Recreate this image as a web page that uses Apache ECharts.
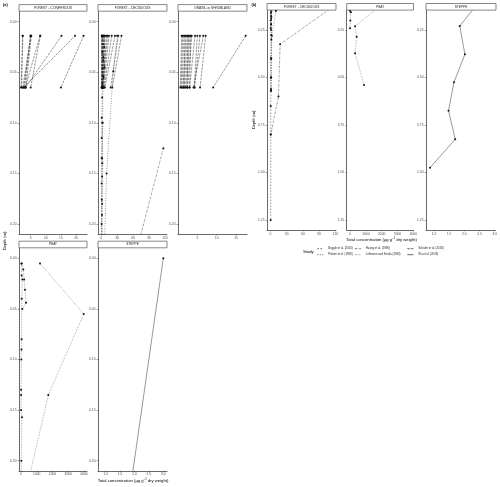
<!DOCTYPE html>
<html>
<head>
<meta charset="utf-8">
<title>Depth profiles</title>
<script src="https://cdn.jsdelivr.net/npm/echarts@6/dist/echarts.min.js"></script>
<style>
  html, body { margin: 0; padding: 0; background: #fff; }
  #main { width: 500px; height: 487px; }
</style>
</head>
<body>
<div id="main"></div>
<script>
// ---- data (concentration, depth in m) ----
var studies = ['Buggle et al. (2010)', 'Polsen et al. (1998)', 'Huang et al. (1996)',
               'Lehtonen and Ketola (1993)', 'Schäfer et al. (2016)', 'Wu et al. (2019)'];

// Schäfer: two sampling depths per site
var schaeferDepths = [0.014, 0.065];
var conifTop    = [2.4, 2.3, 5.0, 5.1, 4.9, 5.2, 8.1, 8.2, 15.2, 19.7, 22.5];
var conifBottom = [1.8, 2.0, 2.4, 2.7, 3.0, 3.4, 3.2, 5.0, 3.3, 2.7, 15.0];
var decidTop    = [0.8, 1.5, 2.2, 3.8, 5.0, 7.0, 10.0, 14.5, 19.6, 25.8, 32.0, 38.0, 1.2, 3.0, 6.0, 12.0];
var decidBottom = [0.5, 0.8, 1.4, 1.2, 2.5, 2.0, 3.0, 4.0, 5.5, 6.8, 17.7, 20.7, 1.0, 2.2, 4.5, 1.8];
var grassTop    = [0.95, 1.2, 1.55, 1.8, 2.07, 2.4, 2.6, 2.76, 3.1, 3.3, 3.54, 4.39, 5.0, 5.68, 6.54, 7.15, 17.5];
var grassBottom = [0.6, 0.8, 1.0, 1.5, 1.3, 1.6, 2.4, 1.9, 2.2, 3.0, 2.5, 3.0, 4.2, 4.3, 4.0, 5.7, 9.1];

// deciduous deeper profiles
var huangDecid = [[117, 0.125], [17.8, 0.325], [14.8, 0.60], [0.5, 0.80]];
var buggleDecid = [[2.0, 0.10], [1.6, 0.135], [1.5, 0.153], [1.0, 0.176], [1.2, 0.191], [0.9, 0.22],
                   [1.0, 0.25], [1.1, 0.277], [0.8, 0.40], [0.6, 0.50], [0.9, 0.56], [0.4, 0.65],
                   [0.5, 0.80], [0.3, 1.25]];
var polsenDecid1 = [[1.5, 0.014], [3.0, 0.022], [2.2, 0.030], [3.6, 0.038], [2.5, 0.046], [3.2, 0.054],
                    [2.0, 0.062], [1.6, 0.075], [1.0, 0.095], [0.8, 0.115], [0.6, 0.135], [0.7, 0.16],
                    [0.5, 0.20], [0.4, 0.24]];
var polsenDecid2 = [[30, 0.014], [22.6, 0.049], [10, 0.15], [2.5, 0.28], [1.5, 0.40], [1.2, 0.50], [1.0, 0.57]];
var polsenDecid3 = [[4.5, 0.014], [5.5, 0.025], [4.0, 0.035], [6.0, 0.045], [4.2, 0.055], [3.0, 0.065],
                    [2.5, 0.10], [2.0, 0.14], [1.6, 0.18], [1.2, 0.22], [1.5, 0.30], [1.0, 0.40],
                    [0.8, 0.50], [0.6, 0.57]];

// peat
var peatBig = [[1206, 0.005], [3980, 0.055], [1735, 0.135], [320, 0.23], [420, 0.285], [320, 0.373], [890, 0.54]];
var peatA = [[44, 0.005], [146, 0.011], [200, 0.021], [254, 0.031], [317, 0.044], [83, 0.05]];
var peatB = [[30, 0.005], [44, 0.017], [83, 0.021], [44, 0.04], [40, 0.08], [30, 0.09], [20, 0.10],
             [10, 0.13], [10, 0.135], [5, 0.15], [60, 0.157], [20, 0.2], [0, 0.241]];

// steppe
var steppe = [[3.0, 0.0], [1.85, 0.229], [2.02, 0.378], [1.66, 0.525], [1.48, 0.675], [1.70, 0.825], [0.87, 0.975]];

// tick labels
var yTicksA = [0, 0.05, 0.10, 0.15, 0.20];
var yTicksB = [0.25, 0.50, 0.75, 1.00, 1.25];
var xTicksConif = [5, 10, 15, 20];
var xTicksDecid = [0, 30, 60, 90, 120];
var xTicksGrass = [5, 10, 15];
var xTicksPeat = [0, 1000, 2000, 3000, 4000];
var xTicksSteppe = [1.0, 1.5, 2.0, 2.5, 3.0];

// ---- layout ----
var FONT = '"Liberation Sans", Arial, sans-serif';
var facets = [
  {name: 'FOREST – CONIFEROUS', left: 19, top: 11.6, width: 68, height: 222.5, xMin: 1.13, xMax: 23.64, xTicks: xTicksConif, xd: 0, yMin: -0.01, yMax: 0.21, yTicks: yTicksA},
  {name: 'FOREST – DECIDUOUS', left: 98, top: 11.6, width: 69, height: 222.5, xMin: -6.2, xMax: 123.8, xTicks: xTicksDecid, xd: 0, yMin: -0.01, yMax: 0.21, yTicks: yTicksA},
  {name: 'GRASS- or SHRUBLAND', left: 178, top: 11.6, width: 69, height: 222.5, xMin: 0, xMax: 17.84, xTicks: xTicksGrass, xd: 0, yMin: -0.01, yMax: 0.21, yTicks: yTicksA},
  {name: 'PEAT', left: 19, top: 248.2, width: 68, height: 222.6, xMin: -127, xMax: 4190, xTicks: xTicksPeat, xd: 0, yMin: -0.01, yMax: 0.21, yTicks: yTicksA},
  {name: 'STEPPE', left: 98, top: 248.2, width: 69, height: 222.6, xMin: 0.733, xMax: 3.128, xTicks: xTicksSteppe, xd: 1, yMin: -0.01, yMax: 0.21, yTicks: yTicksA},
  {name: 'FOREST – DECIDUOUS', left: 267, top: 10.5, width: 69, height: 219.5, xMin: -6.5, xMax: 121.3, xTicks: xTicksDecid, xd: 0, yMin: 0.1475, yMax: 1.3025, yTicks: yTicksB},
  {name: 'PEAT', left: 346.7, top: 10.5, width: 66.8, height: 219.5, xMin: -209, xMax: 4013, xTicks: xTicksPeat, xd: 0, yMin: 0.1475, yMax: 1.3025, yTicks: yTicksB},
  {name: 'STEPPE', left: 426, top: 10.5, width: 70, height: 219.5, xMin: 0.739, xMax: 3.02, xTicks: xTicksSteppe, xd: 1, yMin: 0.1475, yMax: 1.3025, yTicks: yTicksB}
];

var dashes = {
  'Buggle et al. (2010)': [1.5, 1.5],
  'Polsen et al. (1998)': [1, 1.5],
  'Huang et al. (1996)': [2, 1, 0.6, 1],
  'Lehtonen and Ketola (1993)': [0.6, 1],
  'Schäfer et al. (2016)': [2.5, 1],
  'Wu et al. (2019)': 'solid'
};

var grids = [], xAxes = [], yAxes = [], series = [], graphics = [], legends = [];

facets.forEach(function (f, i) {
  grids.push({left: f.left, top: f.top, width: f.width, height: f.height, containLabel: false});
  xAxes.push({
    type: 'value', gridIndex: i, min: f.xMin, max: f.xMax,
    axisLine: {show: true, onZero: false, lineStyle: {color: '#444', width: 0.8}},
    axisTick: {show: true, length: 1.3, customValues: f.xTicks, lineStyle: {color: '#444', width: 0.6}},
    axisLabel: {customValues: f.xTicks, margin: 2.2, fontSize: 3.3, fontFamily: FONT, color: '#4d4d4d',
      formatter: (function (d) { return function (v) { return v.toFixed(d); }; })(f.xd)},
    splitLine: {show: false}
  });
  yAxes.push({
    type: 'value', gridIndex: i, min: f.yMin, max: f.yMax, inverse: true,
    axisLine: {show: true, onZero: false, lineStyle: {color: '#444', width: 0.8}},
    axisTick: {show: true, length: 1.3, customValues: f.yTicks, lineStyle: {color: '#444', width: 0.6}},
    axisLabel: {customValues: f.yTicks, margin: 2.5, fontSize: 3.3, fontFamily: FONT, color: '#4d4d4d',
      formatter: function (v) { return v.toFixed(2); }},
    splitLine: {show: false}
  });
  // facet strip
  var stripTop = f.top - 7;
  graphics.push({type: 'rect', shape: {x: f.left, y: stripTop, width: f.width, height: 6.6},
    style: {fill: '#fff', stroke: '#555', lineWidth: 0.7}, silent: true});
  graphics.push({type: 'text', x: f.left + f.width / 2, y: stripTop + 3.4, silent: true,
    style: {text: f.name, fontSize: 3.2, fontFamily: FONT, fill: '#1a1a1a', align: 'center', verticalAlign: 'middle'}});
});

// dummy series for the legend keys (lines only)
studies.forEach(function (s) {
  series.push({name: s, type: 'line', data: [], xAxisIndex: 0, yAxisIndex: 0, symbol: 'none',
    color: '#222', itemStyle: {color: '#222', opacity: 0},
    lineStyle: {color: '#222', width: 0.7, type: dashes[s]}});
});

function addProfile(study, points, facetIdx) {
  series.push({
    name: study, type: 'line', xAxisIndex: facetIdx, yAxisIndex: facetIdx,
    data: points, symbol: 'circle', symbolSize: 2, showSymbol: true, clip: true, silent: true,
    color: '#222',
    lineStyle: {color: '#333', width: 0.5, type: dashes[study]},
    itemStyle: {color: '#111'}
  });
}
function addPairs(study, tops, bottoms, facetIdx) {
  for (var k = 0; k < tops.length; k++) {
    addProfile(study, [[tops[k], schaeferDepths[0]], [bottoms[k], schaeferDepths[1]]], facetIdx);
  }
}

addPairs('Schäfer et al. (2016)', conifTop, conifBottom, 0);
addPairs('Schäfer et al. (2016)', decidTop, decidBottom, 1);
addPairs('Schäfer et al. (2016)', grassTop, grassBottom, 2);
[1, 5].forEach(function (g) {
  addProfile('Huang et al. (1996)', huangDecid, g);
  addProfile('Buggle et al. (2010)', buggleDecid, g);
  addProfile('Polsen et al. (1998)', polsenDecid1, g);
  addProfile('Polsen et al. (1998)', polsenDecid2, g);
  addProfile('Polsen et al. (1998)', polsenDecid3, g);
});
[3, 6].forEach(function (g) {
  addProfile('Lehtonen and Ketola (1993)', peatBig, g);
  addProfile('Lehtonen and Ketola (1993)', peatA, g);
  addProfile('Lehtonen and Ketola (1993)', peatB, g);
});
[4, 7].forEach(function (g) {
  addProfile('Wu et al. (2019)', steppe, g);
});

// legend: three columns, two rows, filled by column
var legendCols = [317, 354.5, 407];
var legendRows = [247.2, 253.2];
studies.forEach(function (s, i) {
  legends.push({
    data: [s], left: legendCols[Math.floor(i / 2)], top: legendRows[i % 2], padding: 0,
    itemWidth: 6, itemHeight: 3, selectedMode: false,
    itemStyle: {color: '#222', opacity: 0, borderWidth: 0},
    lineStyle: {color: '#222', width: 0.7, type: dashes[s]},
    textStyle: {fontSize: 2.8, fontFamily: FONT, color: '#1a1a1a', lineHeight: 3}
  });
});

// axis titles and panel tags
var titleRich = {
  a: {fontSize: 4.2, fontFamily: FONT, fill: '#000', lineHeight: 5, verticalAlign: 'bottom'},
  s: {fontSize: 2.7, fontFamily: FONT, fill: '#000', lineHeight: 3, verticalAlign: 'top'}
};
graphics.push(
  {type: 'text', x: 3, y: 2.5, silent: true, style: {text: '(a)', fontSize: 3.8, fontWeight: 'bold', fontFamily: FONT, fill: '#000'}},
  {type: 'text', x: 251.5, y: 2.5, silent: true, style: {text: '(b)', fontSize: 3.8, fontWeight: 'bold', fontFamily: FONT, fill: '#000'}},
  {type: 'text', x: 5, y: 241, rotation: Math.PI / 2, silent: true,
    style: {text: 'Depth (m)', fontSize: 4.2, fontFamily: FONT, fill: '#000', align: 'center', verticalAlign: 'middle'}},
  {type: 'text', x: 254, y: 120, rotation: Math.PI / 2, silent: true,
    style: {text: 'Depth (m)', fontSize: 4.2, fontFamily: FONT, fill: '#000', align: 'center', verticalAlign: 'middle'}},
  {type: 'text', x: 133, y: 480, silent: true,
    style: {text: '{a|Total concentration (µg g}{s|−1}{a| dry weight)}', rich: titleRich, align: 'center', verticalAlign: 'middle'}},
  {type: 'text', x: 381.5, y: 239, silent: true,
    style: {text: '{a|Total concentration (µg g}{s|−1}{a| dry weight)}', rich: titleRich, align: 'center', verticalAlign: 'middle'}},
  {type: 'text', x: 303, y: 252.3, silent: true,
    style: {text: 'Study', fontSize: 4.2, fontFamily: FONT, fill: '#000', verticalAlign: 'middle'}}
);

var myChart = echarts.init(document.getElementById('main'));
myChart.setOption({
  animation: false,
  backgroundColor: '#fff',
  grid: grids,
  xAxis: xAxes,
  yAxis: yAxes,
  legend: legends,
  series: series,
  graphic: graphics
});
</script>
</body>
</html>
